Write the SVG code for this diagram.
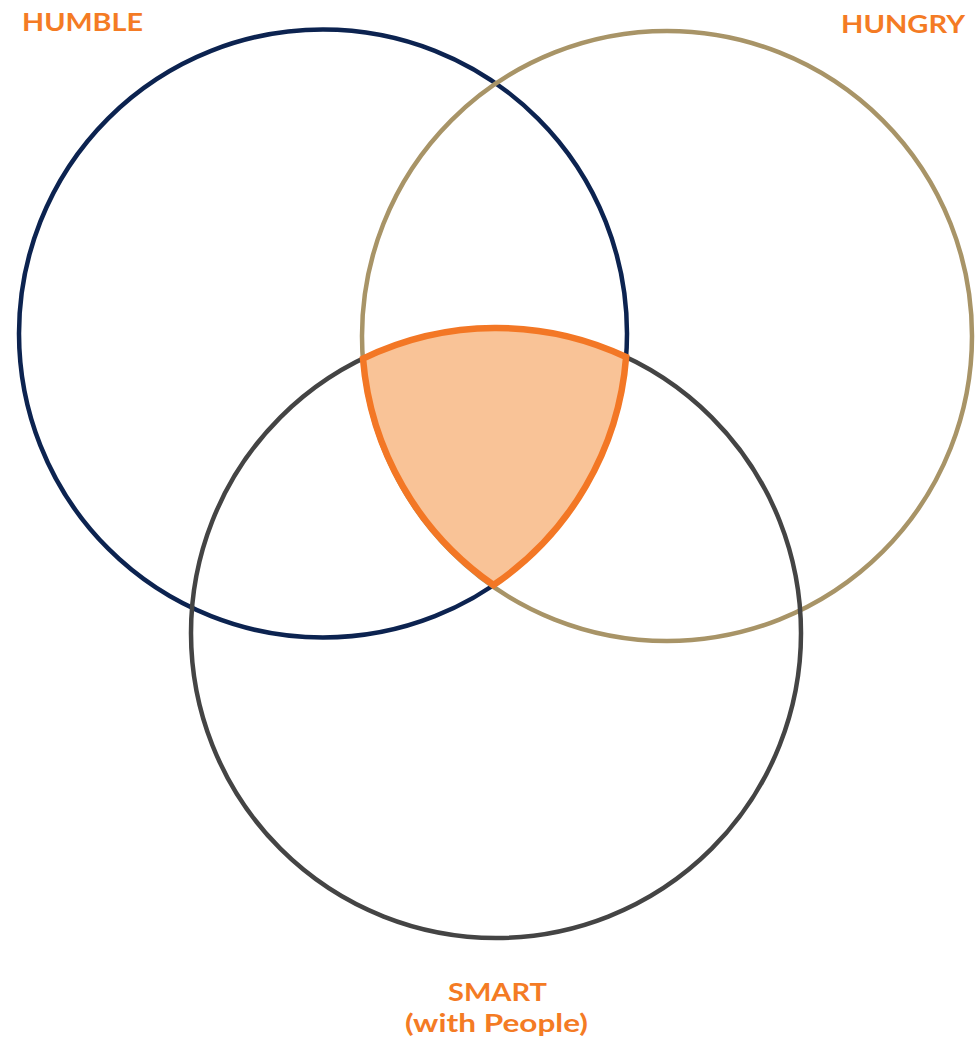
<svg xmlns="http://www.w3.org/2000/svg" width="979" height="1041" viewBox="0 0 979 1041">
<style>
.ring{fill:none;stroke-width:4.5}
.lbl{font-family:Lato,"Open Sans","Liberation Sans",sans-serif;font-weight:700;font-size:25px;fill:#F47B24}
</style>
<rect width="979" height="1041" fill="#ffffff"/>
<g id="humble">
<circle class="ring" cx="323" cy="333.5" r="304" stroke="#0C2350" stroke-width="5"/>
<text class="lbl" x="22" y="31" textLength="121" lengthAdjust="spacingAndGlyphs">HUMBLE</text>
</g>
<g id="hungry">
<circle class="ring" cx="667" cy="336" r="305" stroke="#A89467"/>
<text class="lbl" x="841" y="33" textLength="124" lengthAdjust="spacingAndGlyphs">HUNGRY</text>
</g>
<g id="smart">
<circle class="ring" cx="496" cy="633" r="305" stroke="#444444"/>
<text class="lbl" x="497.5" y="1001" text-anchor="middle" textLength="99" lengthAdjust="spacingAndGlyphs">SMART</text>
<text class="lbl" x="496.5" y="1032" text-anchor="middle" textLength="183" lengthAdjust="spacingAndGlyphs">(with People)</text>
</g>
<g id="center">
<path d="M363 358.6 A305 305 0 0 1 626.1 357 A304 304 0 0 1 493.5 585 A305 305 0 0 1 363 358.6 Z" fill="#F9C397" stroke="#F37725" stroke-width="6.5" stroke-linejoin="miter"/>
</g>
</svg>
